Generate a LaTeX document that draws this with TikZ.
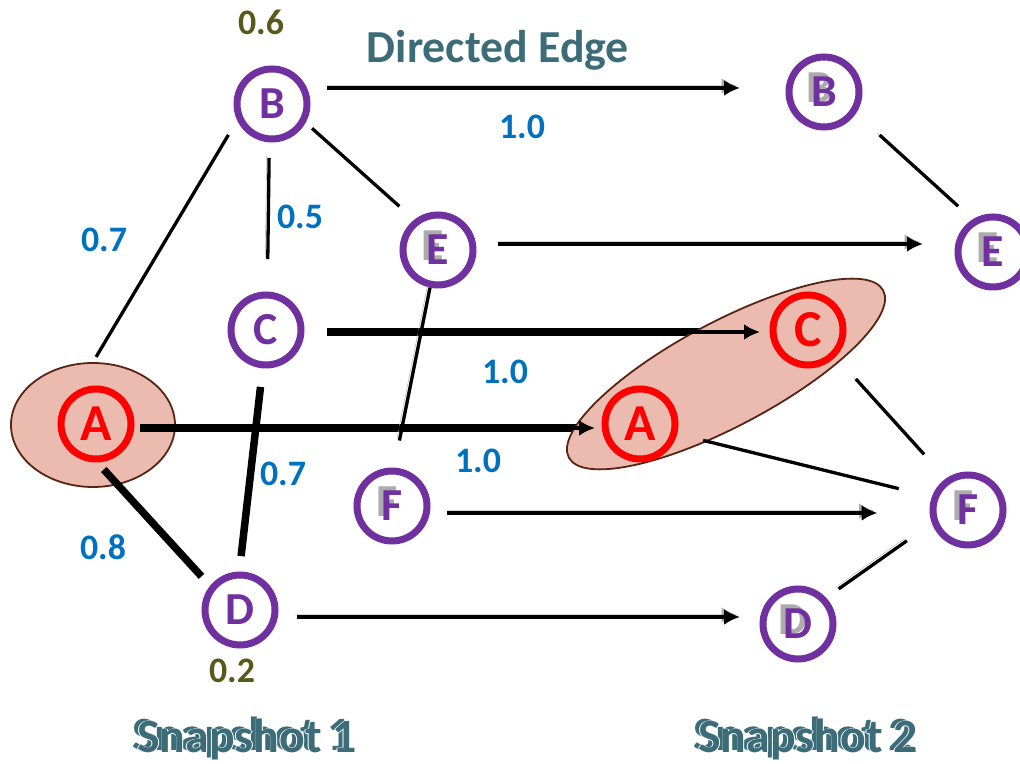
\documentclass[tikz,border=0pt]{standalone}
\usepackage{fontspec}
\setmainfont{Carlito}
\usetikzlibrary{arrows.meta,shapes.geometric,backgrounds}

\definecolor{vpurple}{RGB}{112,48,160}
\definecolor{wblue}{RGB}{0,112,192}
\definecolor{polive}{RGB}{89,89,29}
\definecolor{tealtxt}{RGB}{60,108,120}
\definecolor{grpfill}{RGB}{236,187,175}
\definecolor{grpline}{RGB}{88,36,20}
\definecolor{shade}{RGB}{172,172,172}

% letter with a grey copy behind it
\newcommand{\ghostletter}[1]{\rlap{\smash{\kern-5bp\raisebox{4bp}{\textcolor{shade}{#1}}}}#1}
% doubled caption text with a thin white rim
\newcommand{\snaplabel}[1]{%
  \rlap{\kern-5bp\raisebox{2bp}{#1}}%
  \rlap{\kern-.8bp\textcolor{white}{#1}}%
  \rlap{\kern.8bp\textcolor{white}{#1}}%
  \rlap{\raisebox{.8bp}{\textcolor{white}{#1}}}%
  \rlap{\raisebox{-.8bp}{\textcolor{white}{#1}}}%
  #1}

\tikzset{
  vtx/.style={circle, draw=vpurple, line width=7bp, minimum size=70bp, inner sep=0pt,
    text=vpurple, font=\fontsize{46}{46}\selectfont\bfseries},
  hot/.style={vtx, draw=red, text=red, font=\fontsize{52}{52}\selectfont\bfseries},
  wlabel/.style={text=wblue, font=\fontsize{36}{36}\selectfont\bfseries},
  plabel/.style={wlabel, text=polive},
  caption/.style={text=tealtxt, anchor=base, font=\fontsize{48}{48}\selectfont\bfseries},
  edge/.style={line width=3.3bp},
  heavy/.style={line width=7.5bp},
  link/.style={line width=4bp, -{Latex[length=16bp,width=16bp]}},
  shadowed/.style={preaction={draw=shade, transform canvas={shift={(-2.5bp,2bp)}}}},
  grp/.style={ellipse, draw=grpline, fill=grpfill, line width=1.8bp, inner sep=0pt},
}

\begin{document}
\begin{tikzpicture}[x=1bp, y=1bp]
\useasboundingbox (0,0) rectangle (1020,764);

% Snapshot 1
\node[hot] (A1) at (96,340) {A};
\node[vtx] (B1) at (272,660) {B};
\node[vtx] (C1) at (266,434) {C};
\node[vtx] (D1) at (240,154) {D};
\node[vtx] (E1) at (438,514) {\ghostletter{E}};
\node[vtx] (F1) at (392,258) {\ghostletter{F}};

% Snapshot 2
\node[hot] (A2) at (640,340) {A};
\node[vtx] (B2) at (824,672) {\ghostletter{B}};
\node[hot] (C2) at (808,434) {C};
\node[vtx] (D2) at (798,140) {\ghostletter{D}};
\node[vtx] (E2) at (993,512) {\ghostletter{E}};
\node[vtx] (F2) at (968,254) {\ghostletter{F}};

% Weights
\node[plabel] (wB) at (261,742) {0.6};
\node[plabel] (wD) at (232,93) {0.2};
\node[wlabel] (lAB) at (104,524) {0.7};
\node[wlabel] (lBC) at (300,547) {0.5};
\node[wlabel] (lCD) at (283,290) {0.7};
\node[wlabel] (lAD) at (103,217) {0.8};
\node[wlabel] (lBB) at (522,637) {1.0};
\node[wlabel] (lCC) at (505,392) {1.0};
\node[wlabel] (lAA) at (478,303) {1.0};

% Captions
\node[caption, font=\fontsize{46}{46}\selectfont\bfseries] (title) at (498,701) {Directed Edge};
\node[caption] (snap1) at (247,11) {\snaplabel{Snapshot 1}};
\node[caption] (snap2) at (808,11) {\snaplabel{Snapshot 2}};

% Groups and heavy edges
\begin{scope}[on background layer]
\node[grp, minimum width=164bp, minimum height=124bp] (grp1) at (93,339) {};
\draw[heavy, shorten <=18.7bp, shorten >=15.5bp] (C1.265) -- (D1.91);
\draw[heavy, shorten <=9.5bp, shorten >=12.7bp] (A1.272) -- (D1.141);
\draw[heavy, shorten <=5.5bp] ([yshift=-4bp]A1.east) -- ([yshift=-4bp]A2.west);
\draw[heavy, shorten <=22.5bp] ([yshift=-2bp]C1.east) -- ([yshift=-2bp]C2.west);
\node[grp, minimum width=356bp, minimum height=104bp, rotate=28] (grp2) at (726,390) {};
\end{scope}

% Edges in snapshot 1
\draw[edge, shorten <=6bp, shorten >=17bp] (grp1.north) -- (B1.205);
\draw[edge, shadowed, shorten <=15.6bp, shorten >=32.5bp] (B1.266) -- (C1.88);
\draw[edge, shorten <=8.5bp, shorten >=20bp] (B1.331) -- (E1.128);
\draw[edge, shadowed, shorten >=27.5bp] (E1.258) -- (F1.87);

% Edges in snapshot 2
\draw[edge, shadowed, shorten <=32bp, shorten >=19.5bp] (B2.326) -- (E2.122);
\draw[edge, shadowed, shorten <=30bp, shorten >=32.5bp] (C2.316) -- (F2.125);
\draw[edge, shorten <=26.7bp, shorten >=34bp] (A2.345) -- (F2.160);
\draw[edge, shadowed, shorten <=15.3bp, shorten >=30.5bp] (D2.43) -- (F2.200);

% Directed edges between snapshots
\draw[link, shorten <=5.5bp, shorten >=6.5bp] ([yshift=-4bp]A1.east) -- ([yshift=-4bp]A2.west);
\draw[link, shorten <=22.5bp, shorten >=9.5bp] ([yshift=-2bp]C1.east) -- ([yshift=-2bp]C2.west);
\draw[link, shadowed, shorten <=16.5bp, shorten >=45.5bp] ([yshift=16bp]B1.east) -- ([yshift=4bp]B2.west);
\draw[link, shadowed, shorten <=21.5bp, shorten >=31.5bp] ([yshift=6bp]E1.east) -- ([yshift=8bp]E2.west);
\draw[link, shadowed, shorten <=16.5bp, shorten >=52bp] ([yshift=-7bp]F1.east) -- ([yshift=-3bp]F2.west);
\draw[link, shadowed, shorten <=18.5bp, shorten >=19.5bp] ([yshift=-7bp]D1.east) -- ([yshift=7bp]D2.west);
\end{tikzpicture}
\end{document}
